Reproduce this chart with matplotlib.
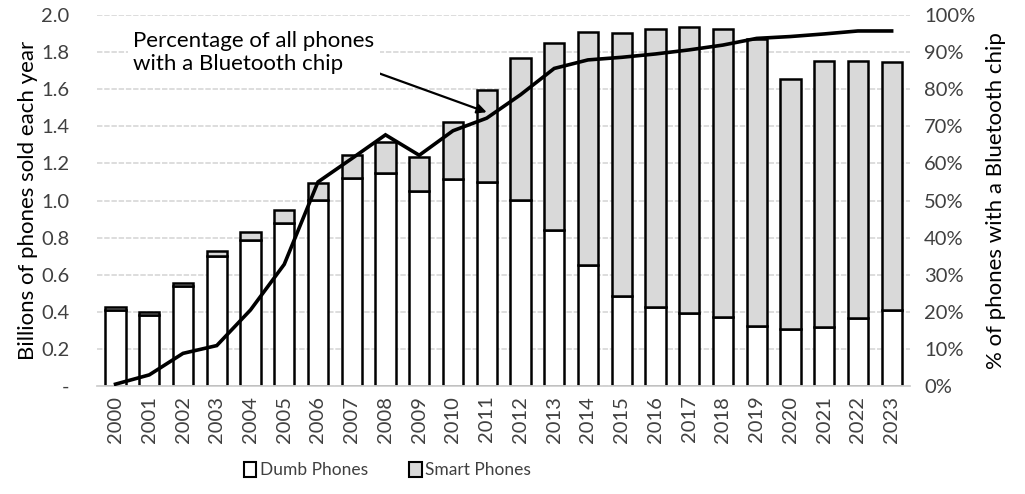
import numpy as np
import matplotlib

matplotlib.use('Agg')

import matplotlib.pyplot as plt
from matplotlib.patches import Patch

# --- Data: phones sold per year (billions) and Bluetooth share (%) ---
years = [str(y) for y in range(2000, 2024)]
dumb_phones = [0.41, 0.385, 0.54, 0.70, 0.785, 0.88, 1.005, 1.12, 1.15, 1.05,
               1.115, 1.10, 1.005, 0.84, 0.655, 0.485, 0.425, 0.395, 0.37, 0.325,
               0.305, 0.318, 0.368, 0.408]
total_phones = [0.427, 0.40, 0.558, 0.73, 0.828, 0.948, 1.093, 1.247, 1.313, 1.235,
                1.425, 1.595, 1.768, 1.851, 1.907, 1.901, 1.923, 1.937, 1.923, 1.869,
                1.655, 1.753, 1.753, 1.749]
smart_phones = [t - d for t, d in zip(total_phones, dumb_phones)]
bluetooth_pct = [0.5, 3.0, 8.8, 10.9, 20.5, 32.8, 55.0, 61.3, 67.7, 62.2,
                 68.8, 72.2, 78.5, 85.6, 87.9, 88.6, 89.5, 90.6, 91.9, 93.7,
                 94.2, 94.9, 95.7, 95.7]

left_ticks = [0.0, 0.2, 0.4, 0.6, 0.8, 1.0, 1.2, 1.4, 1.6, 1.8, 2.0]
left_tick_labels = ['-', '0.2', '0.4', '0.6', '0.8', '1.0', '1.2', '1.4', '1.6', '1.8', '2.0']
right_ticks = list(range(0, 101, 10))
right_tick_labels = [f'{t}%' for t in right_ticks]

plt.rcParams['font.family'] = ['Lato', 'DejaVu Sans']
text_color = '#404040'
grey_fill = '#d9d9d9'

fig = plt.figure(figsize=(10.25, 4.94), dpi=100)
ax = fig.add_axes([0.0946, 0.2186, 0.7934, 0.751])

x = np.arange(len(years))
width = 0.6

# --- Stacked bars ---
ax.bar(x, dumb_phones, width=width, color='white', edgecolor='black',
       linewidth=1.8, zorder=2)
ax.bar(x, smart_phones, width=width, bottom=dumb_phones, color=grey_fill,
       edgecolor='black', linewidth=1.8, zorder=2)

ax.set_xlim(-0.55, len(years) - 0.45)
ax.set_ylim(0, 2.0)
ax.set_yticks(left_ticks)
ax.set_yticklabels(left_tick_labels)
ax.set_xticks(x)
ax.set_xticklabels(years, rotation=90)
ax.tick_params(axis='both', length=0, labelsize=14.5, colors=text_color, pad=7)
ax.tick_params(axis='y', pad=20)
ax.grid(axis='y', color='#dadada', linewidth=1.3, linestyle=(0, (3, 1)), zorder=0)
ax.set_axisbelow(True)
for side in ['top', 'right', 'left']:
    ax.spines[side].set_visible(False)
ax.spines['bottom'].set_color('#d0d0d0')
ax.spines['bottom'].set_linewidth(1.3)
ax.set_ylabel('Billions of phones sold each year', fontsize=16, color='black', labelpad=2)

# --- Bluetooth share line on secondary axis ---
ax2 = ax.twinx()
ax2.plot(x, bluetooth_pct, color='black', linewidth=2.6, solid_joinstyle='miter', zorder=3)
ax2.set_ylim(0, 100)
ax2.set_yticks(right_ticks)
ax2.set_yticklabels(right_tick_labels)
ax2.tick_params(axis='y', length=0, labelsize=14.5, colors=text_color, pad=10)
for side in ['top', 'right', 'left', 'bottom']:
    ax2.spines[side].set_visible(False)
ax2.set_ylabel('% of phones with a Bluetooth chip', fontsize=16, color='black', labelpad=8)

# --- Callout for the line ---
ax2.annotate('Percentage of all phones\nwith a Bluetooth chip',
             xy=(11.0, 73.8), xycoords='data',
             xytext=(0.52, 90.0), textcoords='data',
             fontsize=16, color='black', ha='left', va='center', linespacing=1.2,
             bbox=dict(boxstyle='square,pad=0.25', facecolor='white', edgecolor='none'),
             arrowprops=dict(arrowstyle='-|>', color='black', lw=1.6,
                             mutation_scale=14, shrinkA=0, shrinkB=0,
                             relpos=(1.0, 0.05)))

# --- Legend below the chart ---
handles = [Patch(facecolor='white', edgecolor='black', linewidth=1.5, label='Dumb Phones'),
           Patch(facecolor=grey_fill, edgecolor='black', linewidth=1.5, label='Smart Phones')]
fig.legend(handles=handles, loc='center', bbox_to_anchor=(0.378, 0.048), ncol=2,
           frameon=False, handlelength=0.7, handleheight=0.9,
           handletextpad=0.2, columnspacing=2.4, labelcolor=text_color,
           fontsize=12.5)

fig.savefig('out.png', dpi=100)
